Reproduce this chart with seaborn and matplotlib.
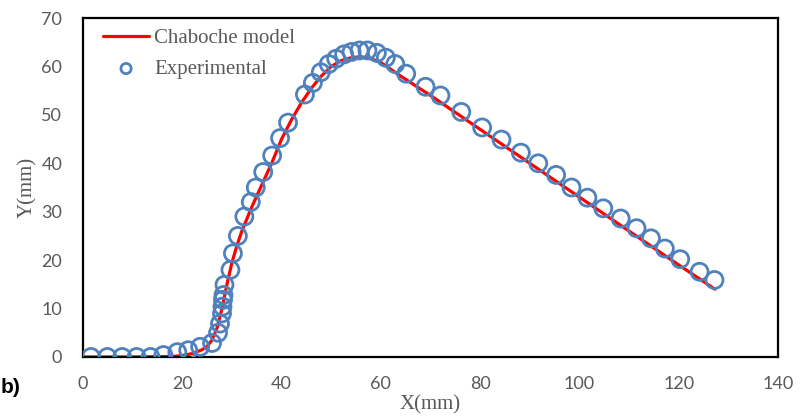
import matplotlib
matplotlib.use("Agg")
import matplotlib.pyplot as plt
import seaborn as sns
import pandas as pd

# Chaboche model curve
model_x = [0, 10, 18, 20, 22, 24, 25, 26, 27, 28, 29, 30, 31, 32, 34, 36, 38, 40,
           42, 44, 46, 48, 50, 52, 54, 56, 58, 60, 64, 70, 80, 90, 100, 110, 120, 127.3]
model_y = [0, 0, 0.1, 0.3, 0.7, 1.5, 2.2, 3.5, 6, 10, 15, 19.5, 23, 26, 31, 35.5, 40, 45,
           49, 52.5, 55.5, 58, 60, 61.2, 61.8, 62, 61.6, 60.8, 58, 54, 47, 40, 33, 26, 19, 14]

# Experimental points
exp_x = [1.6, 4.9, 7.9, 10.8, 13.6, 16.2, 19.0, 21.2, 23.6, 26.0, 27.2, 27.6, 28.0, 28.1,
         28.2, 28.3, 28.5, 29.7, 30.2, 31.2, 32.5, 33.8, 34.8, 36.3, 38.1, 39.7, 41.3,
         44.7, 46.3, 47.9, 49.5, 51.0, 52.6, 54.1, 55.7, 57.3, 59.2, 61.0, 62.9, 65.1,
         69.0, 72.0, 76.2, 80.4, 84.3, 88.2, 91.7, 95.3, 98.4, 101.6, 104.8, 108.3,
         111.5, 114.4, 117.2, 120.3, 124.2, 127.2]
exp_y = [0, 0, 0, 0, 0, 0.4, 1.0, 1.4, 2.1, 2.9, 5.0, 6.9, 9.0, 10.4,
         11.8, 12.8, 14.9, 18.0, 21.4, 25.0, 29.0, 32.0, 35.0, 38.2, 41.6, 45.2, 48.4,
         54.2, 56.6, 58.8, 60.5, 61.6, 62.5, 63.0, 63.3, 63.3, 62.8, 61.8, 60.5, 58.5,
         55.8, 54.0, 50.6, 47.4, 44.9, 42.2, 40.0, 37.6, 35.0, 32.9, 30.7, 28.6,
         26.6, 24.5, 22.4, 20.2, 17.6, 15.9]

x_ticks = [0, 20, 40, 60, 80, 100, 120, 140]
y_ticks = [0, 10, 20, 30, 40, 50, 60, 70]

sns.set_style("white")
plt.rcParams['font.family'] = ['Lato', 'DejaVu Sans']

fig = plt.figure(figsize=(8.05, 4.19), dpi=100)
ax = fig.add_axes([0.1031, 0.148, 0.8634, 0.809])

model_df = pd.DataFrame({"x": model_x, "y": model_y})
exp_df = pd.DataFrame({"x": exp_x, "y": exp_y})

sns.lineplot(data=model_df, x="x", y="y", ax=ax, color="#FF0000", linewidth=2.3,
             label="Chaboche model", sort=False, zorder=2)
sns.scatterplot(data=exp_df, x="x", y="y", ax=ax, marker="o", s=150,
                facecolors="none", edgecolor="#4F81BD", linewidth=2.0,
                label="Experimental", zorder=3)

ax.set_xlim(0, 140)
ax.set_ylim(0, 70)
ax.set_xticks(x_ticks)
ax.set_yticks(y_ticks)
for s in ax.spines.values():
    s.set_visible(True)
    s.set_color("black")
    s.set_linewidth(1.6)
ax.tick_params(axis="both", direction="in", length=5, width=1.2, color="black",
               labelsize=13, labelcolor="#595959")
ax.tick_params(axis="x", pad=14)
ax.tick_params(axis="y", pad=15)

serif = ['Liberation Serif', 'DejaVu Serif']
ax.set_xlabel("X(mm)", fontsize=15, color="#595959", family=serif, labelpad=2)
ax.set_ylabel("Y(mm)", fontsize=15, color="#595959", family=serif, labelpad=3)

leg = ax.legend(loc="upper left", bbox_to_anchor=(0.017, 0.994), borderaxespad=0,
                frameon=False, handlelength=2.2, handletextpad=0.25, labelspacing=0.55,
                markerscale=0.6, prop={'family': serif, 'size': 15})
for t in leg.get_texts():
    t.set_color("#595959")

fig.text(0.001, 0.074, "b)", fontsize=15, fontweight="bold", color="black",
         family=['Liberation Sans', 'DejaVu Sans'], va="center", ha="left")

fig.savefig("out.png", dpi=100)
